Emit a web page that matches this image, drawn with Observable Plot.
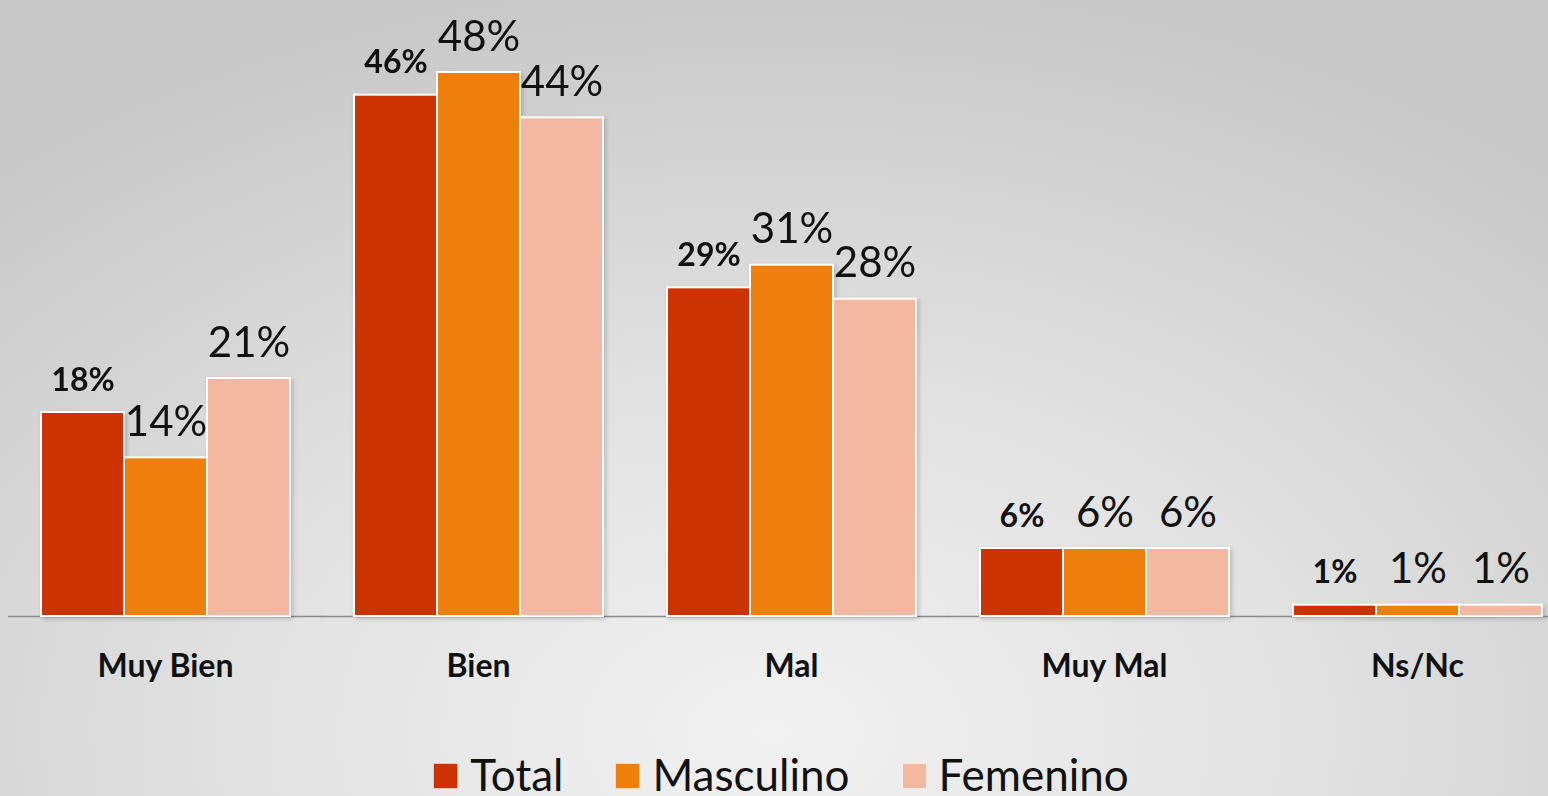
<!DOCTYPE html>
<html>
<head>
<meta charset="utf-8">
<script src="https://cdn.jsdelivr.net/npm/d3@7"></script>
<script src="https://cdn.jsdelivr.net/npm/@observablehq/plot@0.6"></script>
<style>
  html, body { margin: 0; padding: 0; }
  body {
    width: 1548px; height: 796px; overflow: hidden;
    background: radial-gradient(ellipse 75% 95% at 50% 92%, #f1f1f1 0%, #e2e2e2 45%, #c8c8c8 100%);
    font-family: Lato, "Open Sans", sans-serif;
  }
  #chart svg { display: block; overflow: visible; }
  #chart g[aria-label^="fx-axis"] text { font-size: 32px !important; font-weight: 700; fill: #111; }
  #chart g[aria-label="bar"] { filter: drop-shadow(2px 2px 2px rgba(0,0,0,0.18)); }
  #legend { display: flex; justify-content: center; align-items: center; gap: 52px; padding-top: 56px; padding-left: 14px; }
  .item { display: flex; align-items: center; gap: 12px; font-size: 44px; color: #111; line-height: 1; }
  .sw { width: 25px; height: 26px; box-sizing: border-box; border: 1px solid rgba(255,255,255,0.7); margin-top: 4px; }
</style>
</head>
<body>
<div id="chart"></div>
<div id="legend"></div>
<script>
const categories = ["Muy Bien", "Bien", "Mal", "Muy Mal", "Ns/Nc"];
const series = ["Total", "Masculino", "Femenino"];
const total = [18, 46, 29, 6, 1];
const masculino = [14, 48, 31, 6, 1];
const femenino = [21, 44, 28, 6, 1];
const colors = ["#cc3300", "#ef7f0b", "#f4b8a0"];

const seriesValues = [total, masculino, femenino];
const data = categories.flatMap((c, i) =>
  series.map((s, j) => ({category: c, series: s, value: seriesValues[j][i]}))
);

const chart = Plot.plot({
  width: 1548,
  height: 696,
  marginLeft: 40,
  marginRight: 5,
  marginTop: 72,
  marginBottom: 80,
  facet: {data, x: "category"},
  fx: {domain: categories, paddingInner: 0.2, paddingOuter: 0, label: null, tickSize: 0, tickPadding: 38, axis: "bottom"},
  x: {domain: series, axis: null, padding: 0},
  y: {domain: [0, 48], axis: null},
  color: {domain: series, range: colors},
  style: {background: "transparent", fontFamily: "Lato, 'Open Sans', sans-serif", overflow: "visible"},
  marks: [
    Plot.ruleY([0], {stroke: "#8c8c8c", strokeWidth: 1.5, insetLeft: -32, insetRight: -32}),
    Plot.barY(data, {x: "series", y: "value", fill: "series", stroke: "white", strokeWidth: 2}),
    Plot.text(data, {
      filter: d => d.series === "Total",
      x: "series", y: "value", text: d => d.value + "%",
      dy: -22, lineAnchor: "bottom", fontSize: 32, fontWeight: "bold", fill: "#111"
    }),
    Plot.text(data, {
      filter: d => d.series !== "Total",
      x: "series", y: "value", text: d => d.value + "%",
      dy: -22, lineAnchor: "bottom", fontSize: 42, fill: "#111"
    })
  ]
});
document.getElementById("chart").appendChild(chart);

const legend = document.getElementById("legend");
series.forEach((s, i) => {
  const item = document.createElement("div");
  item.className = "item";
  const sw = document.createElement("span");
  sw.className = "sw";
  sw.style.background = colors[i];
  const label = document.createElement("span");
  label.textContent = s;
  item.appendChild(sw);
  item.appendChild(label);
  legend.appendChild(item);
});
</script>
</body>
</html>
